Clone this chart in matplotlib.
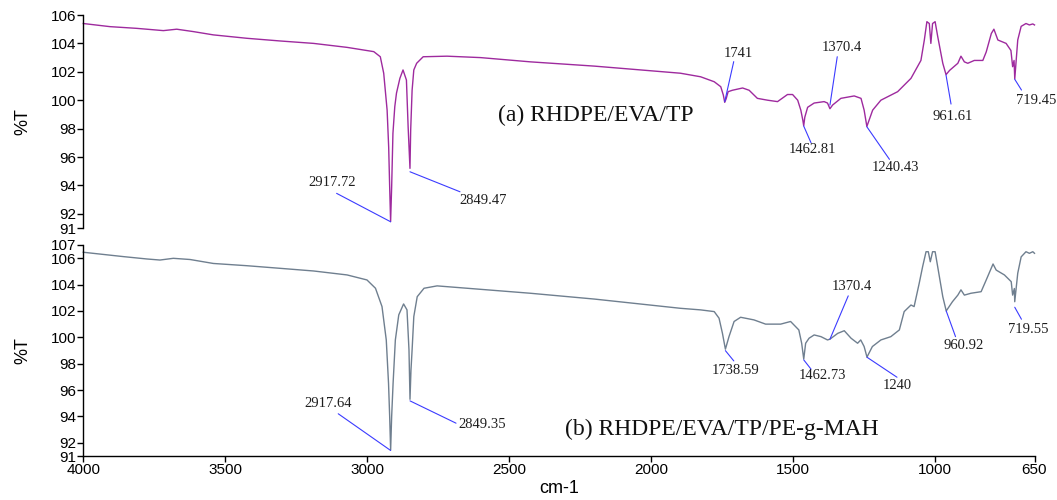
import matplotlib
matplotlib.use("Agg")
import matplotlib.pyplot as plt

# ---------------- data ----------------
# (a) RHDPE/EVA/TP
wn_a = [4000, 3906, 3812, 3718, 3671, 3612, 3542, 3424, 3306, 3189, 3071, 2977,
        2954, 2942, 2930, 2924.5, 2921, 2917.7, 2914, 2909.5, 2903, 2897, 2885,
        2874, 2862, 2856, 2849.5, 2847, 2842, 2836, 2826, 2803, 2719, 2601, 2425,
        2200, 1897, 1826, 1778, 1755, 1746, 1741, 1736, 1729, 1714, 1678, 1655,
        1626, 1590, 1555, 1520, 1502, 1484, 1473, 1466, 1462.8, 1459, 1449, 1426,
        1391, 1379, 1370.4, 1361, 1332, 1285, 1261, 1250, 1240.4, 1220, 1191, 1132,
        1085, 1050, 1038, 1029, 1020.5, 1015, 1009, 1000, 991, 973, 961.6, 949,
        920, 909, 897, 885, 862, 832, 820, 802, 793, 779, 750, 733, 727, 722,
        719.5, 709, 697, 680, 668, 656, 650]
t_a = [105.4, 105.18, 105.06, 104.9, 105.0, 104.83, 104.6, 104.36, 104.17, 104.0,
       103.72, 103.42, 103.06, 101.9, 99.3, 96.7, 93.9, 91.45, 93.9, 97.67, 99.54,
       100.5, 101.54, 102.13, 101.42, 98.13, 95.2, 97.9, 100.7, 102.13, 102.6,
       103.06, 103.1, 103.0, 102.7, 102.4, 101.9, 101.65, 101.3, 100.95, 100.37,
       99.85, 100.1, 100.6, 100.7, 100.86, 100.7, 100.13, 100.0, 99.9, 100.4,
       100.4, 100.0, 99.3, 98.6, 98.2, 98.8, 99.5, 99.8, 99.9, 99.8, 99.4, 99.66,
       100.13, 100.3, 100.13, 99.3, 98.15, 99.3, 100.0, 100.6, 101.54, 102.8,
       104.24, 105.53, 105.4, 104.0, 105.4, 105.53, 104.5, 102.6, 101.8, 102.1,
       102.6, 103.1, 102.7, 102.6, 102.8, 102.8, 103.4, 104.7, 105.0, 104.24,
       104.0, 103.5, 102.36, 102.8, 101.5, 104.24, 105.2, 105.4, 105.3, 105.37,
       105.3]

# (b) RHDPE/EVA/TP/PE-g-MAH
wn_b = [4000, 3859, 3776, 3730, 3683, 3624, 3542, 3424, 3306, 3189, 3071, 3001,
        2971, 2948, 2933, 2925, 2921, 2917.6, 2914, 2909, 2901, 2889, 2872, 2860,
        2853, 2849.4, 2846, 2842, 2836, 2824, 2800, 2754, 2425, 2200, 1897, 1826,
        1778, 1761, 1749, 1738.6, 1726, 1708, 1685, 1638, 1597, 1544, 1509, 1480,
        1470, 1462.7, 1456, 1444, 1426, 1402, 1379, 1370.4, 1343, 1320, 1296,
        1273, 1262, 1250, 1240, 1221, 1191, 1156, 1126, 1109, 1085, 1074, 1056,
        1044, 1032, 1024, 1017, 1009, 1000, 991, 973, 960.9, 939, 920, 909, 897,
        874, 838, 820, 796, 785, 756, 732, 727, 721, 719.6, 709, 697, 680, 668,
        656, 650]
t_b = [106.45, 106.12, 105.94, 105.86, 105.99, 105.9, 105.6, 105.43, 105.23,
       105.03, 104.73, 104.35, 103.72, 102.33, 99.8, 96.5, 94.0, 91.45, 94.0,
       96.5, 99.8, 101.7, 102.53, 102.08, 99.05, 95.3, 97.5, 99.05, 101.57, 103.08,
       103.72, 103.9, 103.34, 102.9, 102.2, 102.08, 101.95, 101.45, 100.3, 99.1,
       100.05, 101.2, 101.52, 101.32, 101.0, 101.0, 101.2, 100.56, 99.55, 98.35,
       99.55, 99.93, 100.18, 100.05, 99.8, 99.86, 100.3, 100.5, 99.93, 99.55, 99.8,
       99.3, 98.5, 99.3, 99.8, 100.05, 100.56, 101.95, 102.45, 102.33, 104.1,
       105.36, 106.49, 106.49, 105.73, 106.49, 106.49, 105.36, 103.08, 102.0, 102.7,
       103.2, 103.6, 103.2, 103.34, 103.46, 104.35, 105.56, 105.1, 104.73, 104.22,
       103.2, 103.7, 102.7, 104.86, 106.1, 106.49, 106.37, 106.49, 106.37]

# peak labels
lab_a = ["2917.72", "2849.47", "1741", "1462.81", "1370.4", "1240.43", "961.61", "719.45"]
pk_a_x = [2917.72, 2849.47, 1741, 1462.81, 1370.4, 1240.43, 961.61, 719.45]
pk_a_y = [91.44, 94.96, 99.9, 98.18, 99.66, 98.13, 101.77, 101.47]

lab_b = ["2917.64", "2849.35", "1738.59", "1462.73", "1370.4", "1240", "960.92", "719.55"]
pk_b_x = [2917.64, 2849.35, 1738.59, 1462.73, 1370.4, 1240, 960.92, 719.55]
pk_b_y = [91.42, 95.18, 98.99, 98.29, 99.86, 98.49, 102.0, 102.28]

# layout: leader-line end and text centre offsets (pixels from the peak)
line_off_a = [(-54, 28.4), (50, -20), (9, 40), (7.3, -16.7), (7.3, 48.3), (22.6, -32.6), (5, -29), (6.7, -10.7)]
text_off_a = [(-58.3, 39), (73.3, -28.3), (14, 48.4), (9, -23.3), (11.6, 57.7), (28.3, -40.6), (6.7, -41.7), (21.7, -20.7)]
line_off_b = [(-52.4, 36.7), (46, -22.3), (8.4, -10.3), (7.3, -9.3), (18.3, 43.3), (30, -20), (9.3, -25.7), (6.7, -12)]
text_off_b = [(-62.4, 47.4), (72, -23.3), (10, -20.3), (19, -16), (21.7, 52.6), (30, -28.7), (17, -35), (13.4, -22.7)]

yt_a = [91, 92, 94, 96, 98, 100, 102, 104, 106]
yt_b = [91, 92, 94, 96, 98, 100, 102, 104, 106, 107]
xt = [4000, 3500, 3000, 2500, 2000, 1500, 1000, 650]

# ---------------- figure ----------------
fig = plt.figure(figsize=(10.57, 5.0), dpi=100)
L, W = 83.3 / 1057, (1034.5 - 83.3) / 1057
ax1 = fig.add_axes([L, 1 - 228 / 500, W, (228 - 15) / 500])
ax2 = fig.add_axes([L, 1 - 456 / 500, W, (456 - 245) / 500])

tick_font = dict(family="Liberation Sans", size=11)
serif = "Liberation Serif"
lead_col = "#3b3bff"
txt_col = "#1e1e1e"


def style(ax, yt, ylim, show_x):
    ax.set_xlim(4000, 650)
    ax.set_ylim(*ylim)
    for s in ["top", "right"]:
        ax.spines[s].set_visible(False)
    ax.spines["left"].set_linewidth(1.0)
    ax.set_yticks(yt)
    ax.set_yticklabels([str(v) for v in yt], fontdict=tick_font)
    ax.tick_params(axis="y", direction="out", length=4, width=1.0, pad=1)
    if show_x:
        ax.spines["bottom"].set_linewidth(1.0)
        ax.set_xticks(xt)
        ax.set_xticklabels([str(v) for v in xt], fontdict=tick_font)
        ax.tick_params(axis="x", direction="out", length=4, width=1.0, pad=1)
    else:
        ax.spines["bottom"].set_visible(False)
        ax.set_xticks([])
    ax.set_ylabel("%T", fontsize=13, family="Liberation Sans", labelpad=14)


style(ax1, yt_a, (91, 106), False)
style(ax2, yt_b, (91, 107), True)
ax2.set_xlabel("cm-1", fontsize=13, family="Liberation Sans", labelpad=2)

ax1.plot(wn_a, t_a, color="#9e2a9e", lw=1.0, clip_on=False)
ax2.plot(wn_b, t_b, color="#6f7f8f", lw=1.0, clip_on=False)


def annotate(ax, labs, px, py, loff, toff):
    for lab, x, y, lo, to in zip(labs, px, py, loff, toff):
        ax.annotate("", xy=(x, y), xytext=lo, textcoords="offset pixels",
                    arrowprops=dict(arrowstyle="-", color=lead_col, lw=0.8,
                                    shrinkA=0, shrinkB=0))
        ax.annotate(lab, xy=(x, y), xytext=to, textcoords="offset pixels",
                    ha="center", va="center", fontsize=10.5, family=serif,
                    color=txt_col)


annotate(ax1, lab_a, pk_a_x, pk_a_y, line_off_a, text_off_a)
annotate(ax2, lab_b, pk_b_x, pk_b_y, line_off_b, text_off_b)

ax1.text(2541, 98.9, "(a) RHDPE/EVA/TP", fontsize=17, family=serif,
         ha="left", va="center", color="#111111")
ax2.text(2302, 93.0, "(b) RHDPE/EVA/TP/PE-g-MAH", fontsize=17, family=serif,
         ha="left", va="center", color="#111111")

fig.savefig("out.png", dpi=100)
